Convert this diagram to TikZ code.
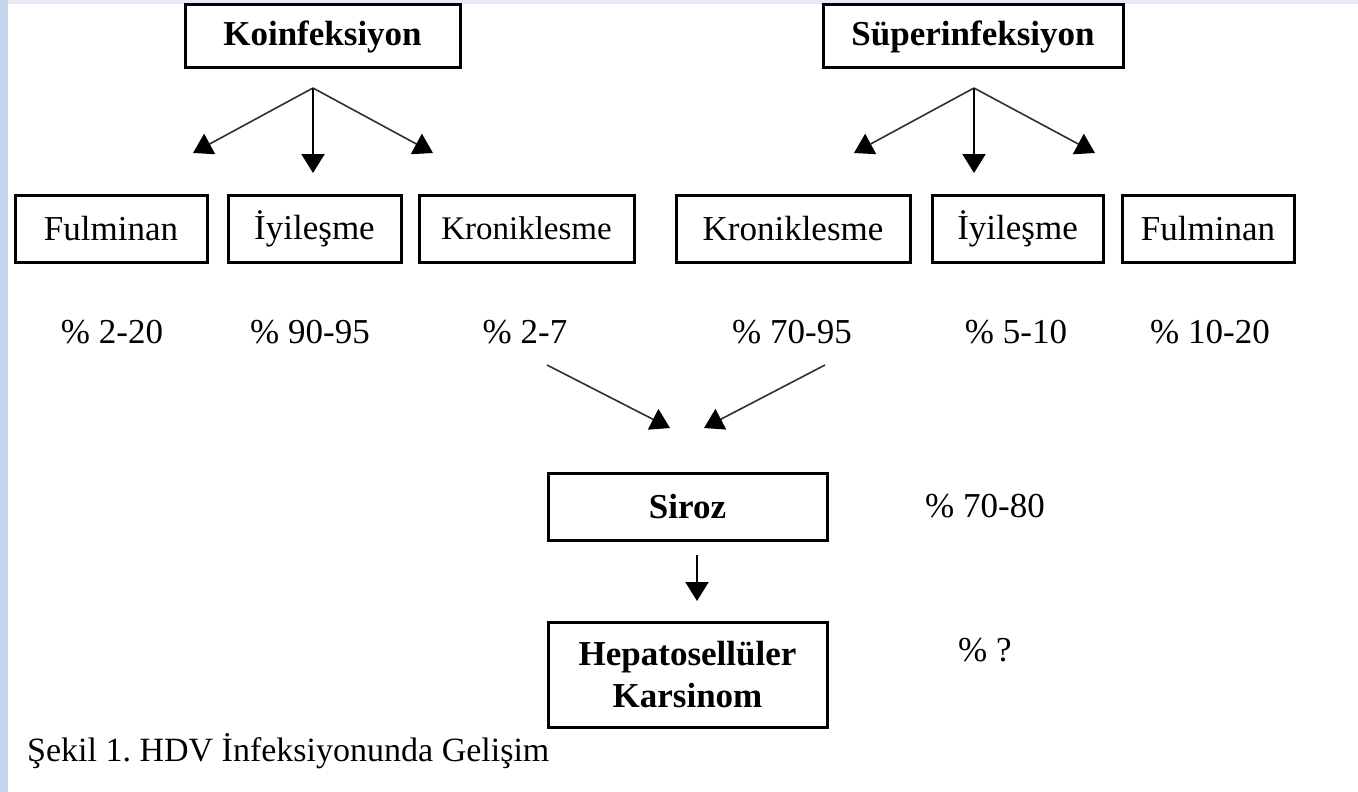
\documentclass[tikz,border=0pt]{standalone}
\usepackage{fontspec}
\setmainfont{Liberation Serif}
\usetikzlibrary{arrows.meta}
\definecolor{stripblue}{HTML}{C6D6EE}
\definecolor{striptop}{HTML}{E4EBF6}
\definecolor{linegray}{HTML}{303030}
\frenchspacing
\tikzset{
  box/.style={
    rectangle, draw=black, line width=3pt,
    minimum height=67pt, inner sep=0pt,
    align=center, font=\fontsize{35}{42}\selectfont,
  },
  headbox/.style={box, font=\fontsize{35}{42}\selectfont\bfseries},
  pct/.style={inner sep=0pt, font=\fontsize{35}{42}\selectfont},
  arr/.style={-{Triangle[length=19pt,width=23pt]}, line width=2.2pt, black},
  sarr/.style={-{Triangle[length=19pt,width=23pt,color=black]}, line width=1.6pt, linegray},
}

\begin{document}
\begin{tikzpicture}[x=1pt, y=-1pt]

% ── page and side strips ───────────────────────────────────────────────
\useasboundingbox (0,0) rectangle (1358,792);
\fill[white] (0,0) rectangle (1358,792);
\fill[striptop] (0,0) rectangle (1358,4);
\fill[stripblue] (0,0) rectangle (8,792);

% ── top row: infection type ───────────────────────────────────────────
\node[headbox, minimum width=275pt, minimum height=63pt] (koin)  at (322.5,36.5) {Koinfeksiyon};
\node[headbox, minimum width=300pt, minimum height=63pt] (super) at (973,36.5)   {Süperinfeksiyon};

% ── second row: outcomes ──────────────────────────────────────────────
\node[box, minimum width=192pt] (ful1) at (111,228.5)    {Fulminan};
\node[box, minimum width=173pt] (iyi1) at (314.5,228.5)  {İyileşme};
\node[box, minimum width=215pt, font=\fontsize{33}{40}\selectfont] (kro1) at (526.5,228.5) {Kroniklesme};
\node[box, minimum width=234pt] (kro2) at (793,228.5)    {Kroniklesme};
\node[box, minimum width=171pt] (iyi2) at (1017.5,228.5) {İyileşme};
\node[box, minimum width=172pt] (ful2) at (1208,228.5)   {Fulminan};

% ── percentages under the outcomes ────────────────────────────────────
\node[pct] (pful1) at (112,332)  {\% 2-20};
\node[pct] (piyi1) at (310,332)  {\% 90-95};
\node[pct] (pkro1) at (525,332)  {\% 2-7};
\node[pct] (pkro2) at (792,332)  {\% 70-95};
\node[pct] (piyi2) at (1016,332) {\% 5-10};
\node[pct] (pful2) at (1210,332) {\% 10-20};

% ── cirrhosis and carcinoma ───────────────────────────────────────────
\node[headbox, minimum width=279pt] (siroz) at (687.5,506.5) {Siroz};
\node[pct] (psiroz) at (985,506) {\% 70-80};
\node[headbox, minimum width=279pt, minimum height=105pt] (hcc) at (687.5,674.5)
      {Hepatosellüler\\Karsinom};
\node[pct, anchor=west] (phcc) at (958,650) {\% ?};

% ── caption ───────────────────────────────────────────────────────────
\node[pct, anchor=west, font=\fontsize{34}{40}\selectfont] (caption) at (27,751)
      {Şekil 1. HDV İnfeksiyonunda Gelişim};

% ── fork points and free arrow ends ───────────────────────────────────
\coordinate (koinfork)  at (313,88);
\coordinate (koinL)     at (193,153);
\coordinate (koinM)     at (313,173);
\coordinate (koinR)     at (433,153);
\coordinate (superfork) at (974,88);
\coordinate (superL)    at (854,153);
\coordinate (superM)    at (974,173);
\coordinate (superR)    at (1095,153);
\coordinate (kro1out) at (547,365);
\coordinate (kro2out) at (825,365);
\coordinate (sirozinL) at (670,428);
\coordinate (sirozinR) at (704,428);
\coordinate (sirozout) at (697,555);
\coordinate (hccin)    at (697,601);

% ── arrows: infection type → outcomes ────────────────────────────────
\draw[sarr] (koinfork) -- (koinL);
\draw[arr]  (koinfork) -- (koinM);
\draw[sarr] (koinfork) -- (koinR);
\draw[sarr] (superfork) -- (superL);
\draw[arr]  (superfork) -- (superM);
\draw[sarr] (superfork) -- (superR);

% ── arrows: chronic cases → cirrhosis → carcinoma ────────────────────
\draw[sarr] (kro1out) -- (sirozinL);
\draw[sarr] (kro2out) -- (sirozinR);
\draw[arr]  (sirozout) -- (hccin);

\end{tikzpicture}
\end{document}
